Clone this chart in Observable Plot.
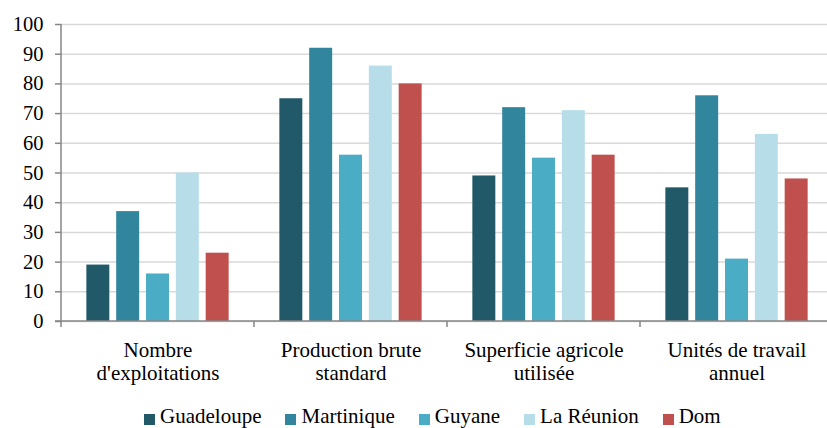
<!DOCTYPE html>
<html>
<head>
<meta charset="utf-8">
<script src="https://cdn.jsdelivr.net/npm/d3@7"></script>
<script src="https://cdn.jsdelivr.net/npm/@observablehq/plot@0.6"></script>
<style>
  html, body { margin: 0; padding: 0; background: #fff; }
  #wrap { position: relative; width: 827px; height: 428px; overflow: hidden; }
  .lg { position: absolute; top: 406px; left: 144px; display: flex; gap: 24px;
    font-family: "Liberation Serif"; font-size: 21px; line-height: 21px; color: #000; white-space: nowrap; }
  .item { display: flex; align-items: flex-start; }
  .sw { width: 11px; height: 11px; margin-top: 8px; margin-right: 5px; }
</style>
</head>
<body>
<div id="wrap"><div id="chart"></div></div>
<script>
const categories = ["Nombre d'exploitations", "Production brute standard", "Superficie agricole utilisée", "Unités de travail annuel"];
const categoryLabels = ["Nombre\nd'exploitations", "Production brute\nstandard", "Superficie agricole\nutilisée", "Unités de travail\nannuel"];
const series = ["Guadeloupe", "Martinique", "Guyane", "La Réunion", "Dom"];
const colors = ["#215968", "#31859C", "#4BACC6", "#B7DEE8", "#C0504D"];
const guadeloupe = [19, 75, 49, 45];
const martinique = [37, 92, 72, 76];
const guyane = [16, 56, 55, 21];
const reunion = [50, 86, 71, 63];
const dom = [23, 80, 56, 48];
const yTicks = [0, 10, 20, 30, 40, 50, 60, 70, 80, 90, 100];

const seriesValues = [guadeloupe, martinique, guyane, reunion, dom];
const data = categories.flatMap((c, i) => series.map((s, j) => ({category: c, series: s, value: seriesValues[j][i]})));

const fontFamily = "Times New Roman";
const axisGray = "#868686";
const chart = Plot.plot({
  width: 827,
  height: 400,
  marginLeft: 59,
  marginRight: -7,
  marginTop: 24,
  marginBottom: 79,
  style: {fontFamily: fontFamily, fontSize: "21px", color: "#000", background: "transparent"},
  fx: {domain: categories, padding: 0, label: null},
  x: {domain: series, paddingInner: 0.23, paddingOuter: 0.85, axis: null, round: false},
  y: {domain: [0, 100], label: null},
  color: {domain: series, range: colors},
  marks: [
    Plot.gridY(yTicks, {stroke: "#d9d9d9", strokeOpacity: 1, strokeWidth: 1.5}),
    Plot.barY(data, {fx: "category", x: "series", y: "value", fill: "series"}),
    Plot.axisY(yTicks, {tickSize: 6, tickPadding: 12, stroke: axisGray, strokeWidth: 1.5, fill: "#000", fontSize: 20.5, label: null}),
    Plot.axisFx({anchor: "bottom", tickSize: 0, tickPadding: 19, fontSize: 21, lineHeight: 1.1, fill: "#000",
      tickFormat: d => categoryLabels[categories.indexOf(d)], label: null})
  ]
});
document.getElementById("chart").appendChild(chart);
chart.querySelectorAll("text").forEach(t => t.setAttribute("font-family", fontFamily));

const fx = chart.scale("fx");
const ys = chart.scale("y");
const y0 = ys.apply(0), y100 = ys.apply(100);
const x0 = fx.apply(categories[0]);
const g = d3.select(chart).append("g").attr("stroke", axisGray).attr("stroke-width", 1.5);
g.append("line").attr("x1", x0).attr("x2", x0).attr("y1", y100).attr("y2", y0 + 6);
g.append("line").attr("x1", x0 - 6).attr("x2", 827).attr("y1", y0).attr("y2", y0);
categories.slice(1).forEach(c => {
  const x = fx.apply(c);
  g.append("line").attr("x1", x).attr("x2", x).attr("y1", y0).attr("y2", y0 + 6);
});

const legend = document.createElement("div");
legend.className = "lg";
series.forEach((s, i) => {
  const it = document.createElement("div");
  it.className = "item";
  const sw = document.createElement("div");
  sw.className = "sw";
  sw.style.background = colors[i];
  const tx = document.createElement("span");
  tx.textContent = s;
  it.appendChild(sw);
  it.appendChild(tx);
  legend.appendChild(it);
});
document.getElementById("wrap").appendChild(legend);
</script>
</body>
</html>
